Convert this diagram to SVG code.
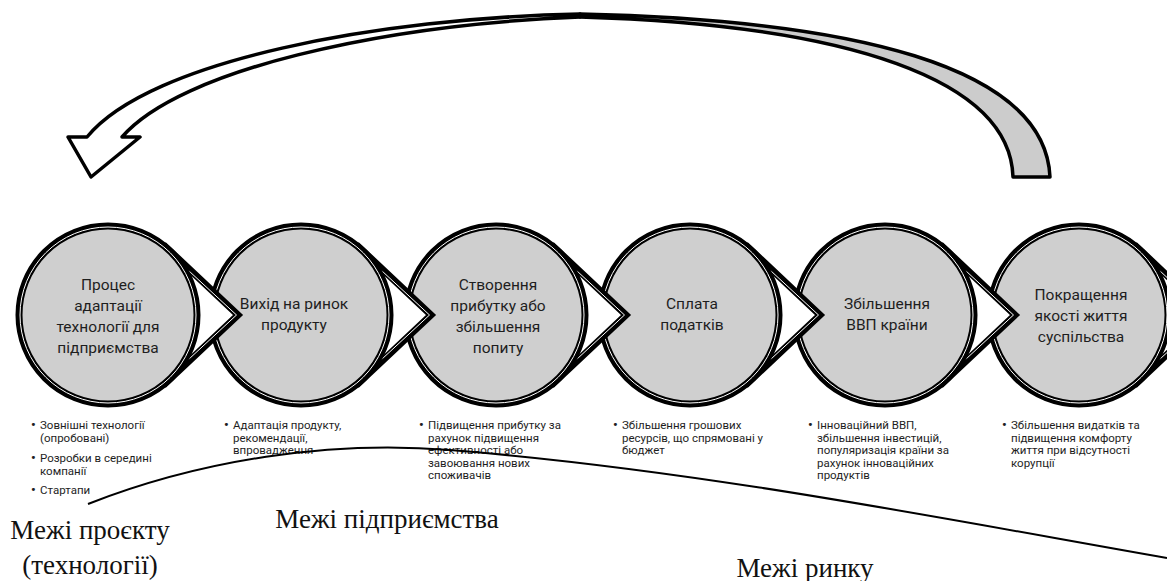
<svg xmlns="http://www.w3.org/2000/svg" xmlns:xlink="http://www.w3.org/1999/xlink" width="1167" height="581" viewBox="0 0 1167 581">
<style>
.ptr{fill:#ffffff;stroke:#000;stroke-width:7;stroke-linejoin:miter}
.ptrw{fill:none;stroke:#fff;stroke-width:1}
.circ{fill:#cfcfcf;stroke:#000;stroke-width:7}
.circw{fill:none;stroke:#fff;stroke-width:1}
.lbl{font-family:Roboto,"Noto Sans",sans-serif;font-size:15.5px;fill:#1e1e1e;text-anchor:middle}
.bul{font-family:Roboto,"Noto Sans",sans-serif;font-size:11.5px;fill:#1e1e1e}
.dot{font-size:13px;font-weight:bold}
.bnd{font-family:"Liberation Serif","Times New Roman",serif;font-size:27px;fill:#111;text-anchor:middle}
.arrow{stroke:#000;stroke-width:3.5;stroke-linejoin:round}
</style>
<defs>
<g id="shape">
<path class="ptr" d="M61 -65 L130 0 L61 65 Z"/>
<path class="ptrw" d="M60 -63.5 L128.5 0 L60 63.5"/>
<circle class="circ" r="89"/>
<circle class="circw" r="88"/>
</g>
</defs>
<g id="connectors">
<path id="loop-back" class="arrow" fill="#cccccc" d="M1013 177 C1010 80 850 25 580 17 L580 14 C850 20 1045 65 1050 177 Z"/>
<path id="loop-front" class="arrow" fill="#ffffff" d="M580 14 C380 18 150 60 87 137 L68 137 L91 177 L140 137 L122 137 C180 70 380 25 580 17 Z"/>
</g>
<g id="node-6">
<use xlink:href="#shape" x="1079" y="315"/>
<text class="lbl"><tspan x="1081" y="299.5">Покращення</tspan><tspan x="1081" y="320.5">якості життя</tspan><tspan x="1081" y="341.5">суспільства</tspan></text>
<text class="bul"><tspan class="dot" x="1002" y="429">•</tspan><tspan x="1011" y="429">Збільшення видатків та</tspan><tspan x="1011" y="441.5">підвищення комфорту</tspan><tspan x="1011" y="454">життя при відсутності</tspan><tspan x="1011" y="466.5">корупції</tspan></text>
</g>
<g id="node-5">
<use xlink:href="#shape" x="885" y="315"/>
<text class="lbl"><tspan x="887" y="309">Збільшення</tspan><tspan x="887" y="330">ВВП країни</tspan></text>
<text class="bul"><tspan class="dot" x="808" y="429">•</tspan><tspan x="817" y="429">Інноваційний ВВП,</tspan><tspan x="817" y="441.5">збільшення інвестицій,</tspan><tspan x="817" y="454">популяризація країни за</tspan><tspan x="817" y="466.5">рахунок інноваційних</tspan><tspan x="817" y="479">продуктів</tspan></text>
</g>
<g id="node-4">
<use xlink:href="#shape" x="690" y="315"/>
<text class="lbl"><tspan x="692" y="309">Сплата</tspan><tspan x="692" y="330">податків</tspan></text>
<text class="bul"><tspan class="dot" x="613" y="429">•</tspan><tspan x="622" y="429">Збільшення грошових</tspan><tspan x="622" y="441.5">ресурсів, що спрямовані у</tspan><tspan x="622" y="454">бюджет</tspan></text>
</g>
<g id="node-3">
<use xlink:href="#shape" x="496" y="315"/>
<text class="lbl"><tspan x="498" y="290">Створення</tspan><tspan x="498" y="311">прибутку або</tspan><tspan x="498" y="332">збільшення</tspan><tspan x="498" y="353">попиту</tspan></text>
<text class="bul"><tspan class="dot" x="419" y="429">•</tspan><tspan x="428" y="429">Підвищення прибутку за</tspan><tspan x="428" y="441.5">рахунок підвищення</tspan><tspan x="428" y="454">ефективності або</tspan><tspan x="428" y="466.5">завоювання нових</tspan><tspan x="428" y="479">споживачів</tspan></text>
</g>
<g id="node-2">
<use xlink:href="#shape" x="301" y="315"/>
<text class="lbl"><tspan x="294" y="309">Вихід на ринок</tspan><tspan x="294" y="330">продукту</tspan></text>
<text class="bul"><tspan class="dot" x="224" y="429">•</tspan><tspan x="233" y="429">Адаптація продукту,</tspan><tspan x="233" y="441.5">рекомендації,</tspan><tspan x="233" y="454">впровадження</tspan></text>
</g>
<g id="node-1">
<use xlink:href="#shape" x="108" y="315"/>
<text class="lbl"><tspan x="108" y="290">Процес</tspan><tspan x="108" y="311">адаптації</tspan><tspan x="108" y="332">технології для</tspan><tspan x="108" y="353">підприємства</tspan></text>
<text class="bul"><tspan class="dot" x="31" y="429">•</tspan><tspan x="40" y="429">Зовнішні технології</tspan><tspan x="40" y="441.5">(опробовані)</tspan><tspan class="dot" x="31" y="462">•</tspan><tspan x="40" y="462">Розробки в середині</tspan><tspan x="40" y="474.5">компанії</tspan><tspan class="dot" x="31" y="494">•</tspan><tspan x="40" y="494">Стартапи</tspan></text>
</g>
<g id="boundaries">
<path d="M88 504 C200 460 330 440 450 450 C700 470 950 520 1167 558" fill="none" stroke="#000" stroke-width="2"/>
<text class="bnd"><tspan x="90" y="539">Межі проєкту</tspan><tspan x="90" y="574">(технології)</tspan></text>
<text class="bnd" x="387" y="528">Межі підприємства</text>
<text class="bnd" x="805" y="577">Межі ринку</text>
</g>
</svg>
